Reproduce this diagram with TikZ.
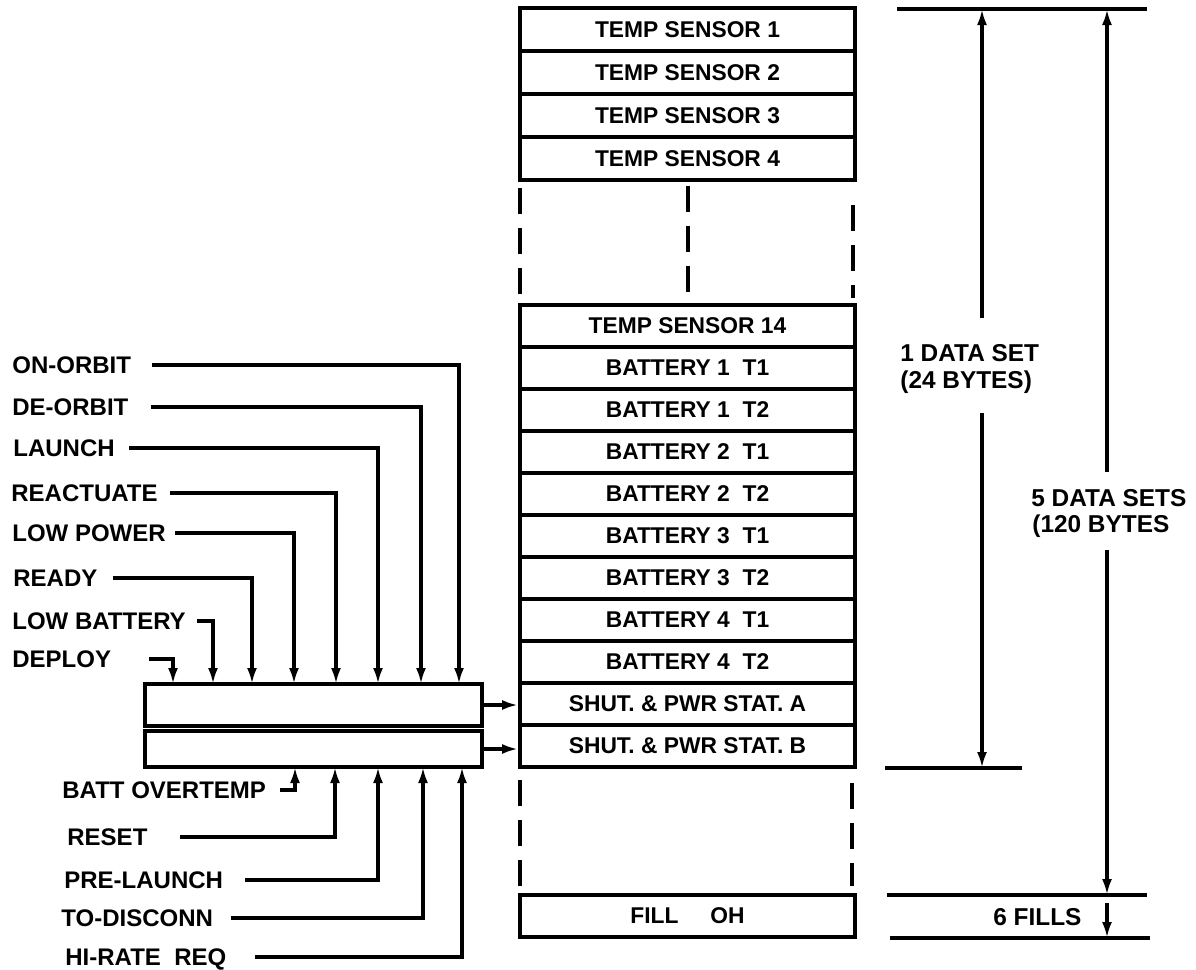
\documentclass[tikz,border=0pt]{standalone}
\usepackage{fontspec}
\setmainfont{Liberation Sans}
\usetikzlibrary{arrows.meta}
\begin{document}
\begin{tikzpicture}[x=0.5pt,y=-0.5pt,
  cell/.style={draw, line width=1.9pt, minimum width=167.5pt, minimum height=21pt, inner sep=0pt, font=\fontsize{11.4}{13}\selectfont\bfseries, text depth=0pt},
  regbox/.style={draw, line width=1.9pt, minimum width=168.5pt, inner sep=0pt},
  lab/.style={anchor=west, inner sep=0pt, font=\fontsize{12}{14}\selectfont\bfseries, text depth=0pt},
  dimtext/.style={anchor=base west, inner sep=0pt, font=\fontsize{12.2}{14}\selectfont\bfseries},
  wire/.style={line width=1.6pt},
  arr/.style={wire, -{Latex[length=8pt,width=5pt]}},
  dashcol/.style={line width=1.9pt, dash pattern=on 13pt off 7pt},
]
\useasboundingbox (0,0) rectangle (1196,970);

% ---- top group of cells
\node[cell, minimum height=21.5pt] (c1) at (687.5,29.5) {TEMP SENSOR 1};
\node[cell, minimum height=21.5pt] (c2) at (687.5,72.5) {TEMP SENSOR 2};
\node[cell, minimum height=21.5pt] (c3) at (687.5,115.5) {TEMP SENSOR 3};
\node[cell, minimum height=21.5pt] (c4) at (687.5,158.5) {TEMP SENSOR 4};

% ---- dashed gaps
\draw[dashcol] (520,188) -- (520,300);
\draw[dashcol] (688,186) -- (688,300);
\draw[dashcol] (853,205) -- (853,298);

% ---- bottom group of cells
\node[cell] (c14) at (687.5,326) {TEMP SENSOR 14};
\node[cell] (b1a) at (687.5,368) {BATTERY 1\ \ T1};
\node[cell] (b1b) at (687.5,410) {BATTERY 1\ \ T2};
\node[cell] (b2a) at (687.5,452) {BATTERY 2\ \ T1};
\node[cell] (b2b) at (687.5,494) {BATTERY 2\ \ T2};
\node[cell] (b3a) at (687.5,536) {BATTERY 3\ \ T1};
\node[cell] (b3b) at (687.5,578) {BATTERY 3\ \ T2};
\node[cell] (b4a) at (687.5,620) {BATTERY 4\ \ T1};
\node[cell] (b4b) at (687.5,662) {BATTERY 4\ \ T2};
\node[cell] (sa) at (687.5,704) {SHUT. \& PWR STAT. A};
\node[cell] (sb) at (687.5,746) {SHUT. \& PWR STAT. B};

\draw[dashcol] (520,780) -- (520,886);
\draw[dashcol] (852,783) -- (852,886);

\node[cell] (fill) at (687.5,916) {FILL\hspace{16pt}OH};

% ---- register boxes
\node[regbox, minimum height=21pt] (ra) at (313.5,705) {};
\node[regbox, minimum height=18pt] (rb) at (313.5,749) {};
\draw[arr] (ra.east) -- (ra.east -| sa.west);
\draw[arr] (rb.east) -- (rb.east -| sb.west);

% ---- inputs from above
\coordinate (t1) at (459,684);
\coordinate (t2) at (421,684);
\coordinate (t3) at (378,684);
\coordinate (t4) at (336,684);
\coordinate (t5) at (294,684);
\coordinate (t6) at (252,684);
\coordinate (t7) at (213,684);
\coordinate (t8) at (173,684);

\node[lab] (l1) at (12,365) {ON-ORBIT};
\node[lab] (l2) at (12,407) {DE-ORBIT};
\node[lab] (l3) at (13,448) {LAUNCH};
\node[lab] (l4) at (11,493) {REACTUATE};
\node[lab] (l5) at (12,533) {LOW POWER};
\node[lab] (l6) at (13,578) {READY};
\node[lab] (l7) at (12,621) {LOW BATTERY};
\node[lab] (l8) at (12,659) {DEPLOY};

\draw[arr] ([xshift=10.5pt]l1.east) -| (t1);
\draw[arr] ([xshift=11pt]l2.east) -| (t2);
\draw[arr] ([xshift=7pt]l3.east) -| (t3);
\draw[arr] ([xshift=6pt]l4.east) -| (t4);
\draw[arr] ([xshift=4.5pt]l5.east) -| (t5);
\draw[arr] ([xshift=7.5pt]l6.east) -| (t6);
\draw[arr] ([xshift=5.5pt]l7.east) -| (t7);
\draw[arr] ([xshift=19pt]l8.east) -| (t8);

% ---- inputs from below
\coordinate (u1) at (295,767);
\coordinate (u2) at (335,767);
\coordinate (u3) at (378,767);
\coordinate (u4) at (423,767);
\coordinate (u5) at (462,767);

\node[lab] (m1) at (62,790) {BATT OVERTEMP};
\node[lab] (m2) at (67,837) {RESET};
\node[lab] (m3) at (64,880) {PRE-LAUNCH};
\node[lab] (m4) at (61,918) {TO-DISCONN};
\node[lab] (m5) at (65,957) {HI-RATE\ \ REQ};

\draw[arr] ([xshift=7pt]m1.east) -| (u1);
\draw[arr] ([xshift=16pt]m2.east) -| (u2);
\draw[arr] ([xshift=11pt]m3.east) -| (u3);
\draw[arr] ([xshift=9pt]m4.east) -| (u4);
\draw[arr] ([xshift=14pt]m5.east) -| (u5);

% ---- dimension lines on the right
\draw[wire] (897,9) -- (1147,9);
\draw[wire] (885,768) -- (1022,768);
\draw[wire] (887,895) -- (1147,895);
\draw[wire] (890,938) -- (1150,938);

\coordinate (v1top) at (982,9);
\coordinate (v1a) at (982,318);
\coordinate (v1b) at (982,413);
\coordinate (v1bot) at (982,768);
\coordinate (v2top) at (1107,9);
\coordinate (v2a) at (1107,472);
\coordinate (v2b) at (1107,550);
\coordinate (v2bot) at (1107,895);
\coordinate (v3a) at (1107,903);
\coordinate (v3bot) at (1107,938);

\draw[arr] (v1a) -- (v1top);
\draw[arr] (v1b) -- (v1bot);
\draw[arr] (v2a) -- (v2top);
\draw[arr] (v2b) -- (v2bot);
\draw[arr] (v3a) -- (v3bot);

\node[dimtext] (d1) at (900,361) {1 DATA SET};
\node[dimtext] (d2) at (900,388) {(24 BYTES)};
\node[dimtext] (d3) at (1031,506) {5 DATA SETS};
\node[dimtext] (d4) at (1032,532) {(120 BYTES};
\node[dimtext] (d5) at (993,925) {6 FILLS};
\end{tikzpicture}
\end{document}
